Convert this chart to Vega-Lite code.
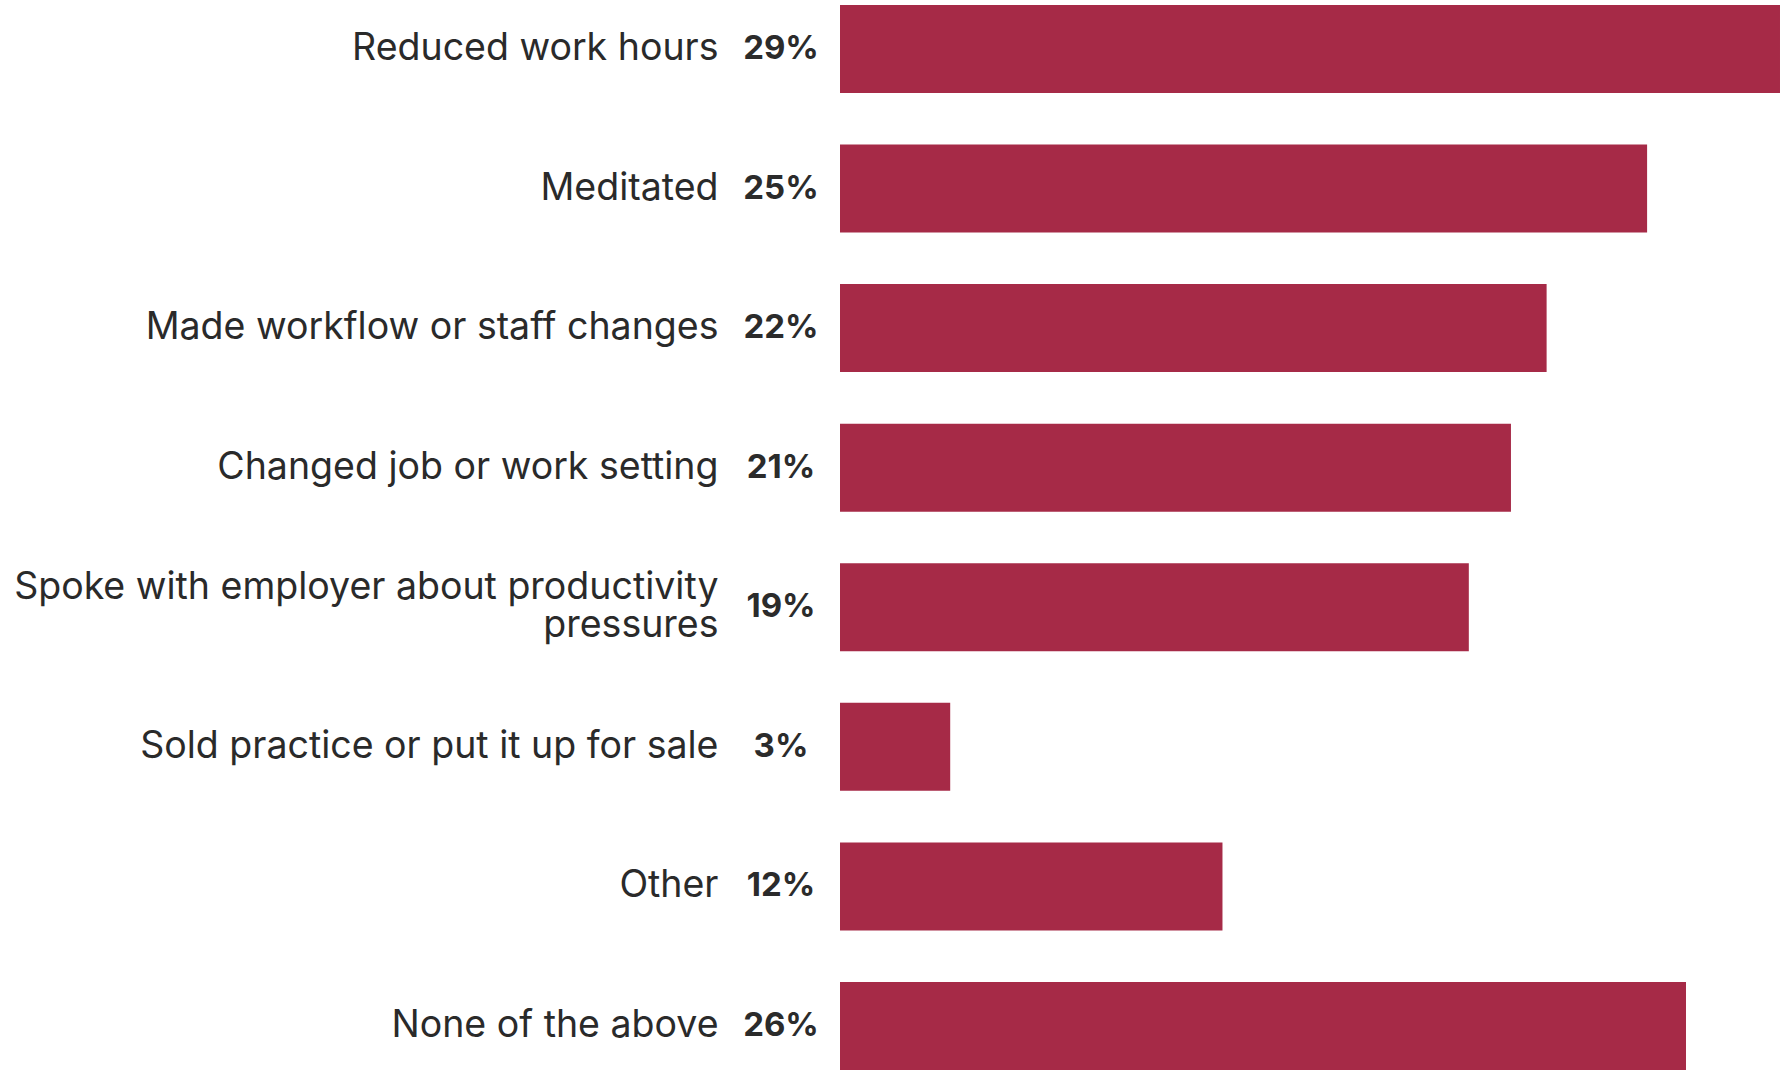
{
  "$schema": "https://vega.github.io/schema/vega-lite/v6.json",
  "width": 948,
  "height": 1071,
  "autosize": {"type": "none"},
  "padding": {"left": 840, "top": 0, "right": 0, "bottom": 0},
  "background": "white",
  "config": {"view": {"stroke": null}, "font": "Inter"},
  "data": {
    "values": [
      {"label": "Reduced work hours", "value": 29.0, "pct": "29%"},
      {"label": "Meditated", "value": 24.9, "pct": "25%"},
      {"label": "Made workflow or staff changes", "value": 21.8, "pct": "22%"},
      {"label": "Changed job or work setting", "value": 20.7, "pct": "21%"},
      {"label": "Spoke with employer about productivity\npressures", "value": 19.4, "pct": "19%"},
      {"label": "Sold practice or put it up for sale", "value": 3.4, "pct": "3%"},
      {"label": "Other", "value": 11.8, "pct": "12%"},
      {"label": "None of the above", "value": 26.1, "pct": "26%"}
    ]
  },
  "encoding": {
    "y": {
      "field": "label",
      "type": "nominal",
      "sort": null,
      "scale": {"paddingInner": 0.3695, "paddingOuter": 0.0215, "align": 0.83},
      "axis": {
        "title": null,
        "domain": false,
        "ticks": false,
        "labelPadding": 122,
        "labelLimit": 0,
        "labelFont": "Inter",
        "labelFontSize": 37.5,
        "labelColor": "#2a2a2a",
        "labelAlign": "right",
        "labelBaseline": {"condition": {"test": "indexof(datum.value, 'pressures') >= 0", "value": "line-bottom"}, "value": "middle"},
        "labelLineHeight": 38,
        "labelExpr": "split(datum.label, '\\n')"
      }
    }
  },
  "layer": [
    {
      "mark": {"type": "bar", "color": "#a62a47"},
      "encoding": {
        "x": {
          "field": "value",
          "type": "quantitative",
          "scale": {"domain": [0, 29.247], "nice": false, "zero": true},
          "axis": null
        }
      }
    },
    {
      "mark": {"type": "text", "dx": -59, "align": "center", "baseline": "middle", "font": "Inter", "fontWeight": "bold", "fontSize": 33, "color": "#2b2b2b"},
      "encoding": {
        "x": {"datum": 0, "type": "quantitative"},
        "text": {"field": "pct"}
      }
    }
  ]
}
